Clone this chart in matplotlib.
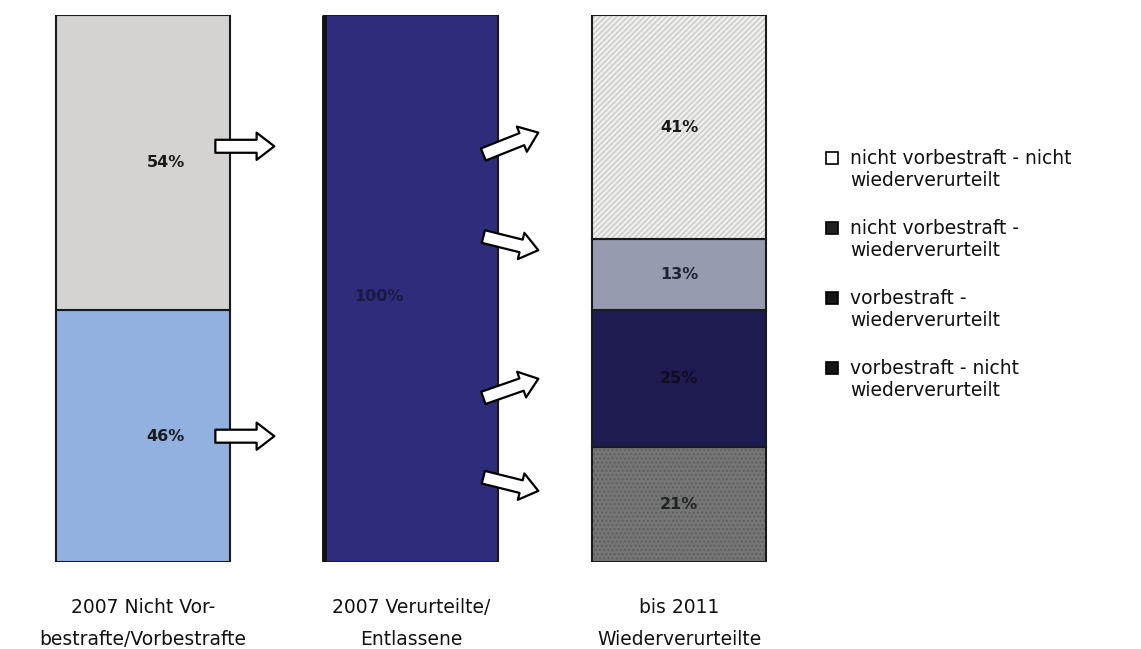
import numpy as np
import matplotlib.pyplot as plt
from matplotlib.patches import Rectangle

# data
categories = ["2007 Nicht Vor-\nbestrafte/Vorbestrafte",
              "2007 Verurteilte/\nEntlassene",
              "bis 2011\nWiederverurteilte"]
bar1_values = [46, 54]                  # vorbestraft, nicht vorbestraft
bar1_colors = ["#92b1e1", "#d4d3d1"]
bar2_values = [100]
bar2_colors = ["#2d2d7c"]
bar3_values = [21, 25, 13, 41]          # bottom -> top
bar3_colors = ["#767676", "#1d1b4f", "#969bb0", "#efefed"]
bar3_hatch = ["....", None, None, "//////"]
bar3_hatch_colors = ["#5f5f5f", None, None, "#c9c9c9"]
legend_labels = ["nicht vorbestraft - nicht\nwiederverurteilt",
                 "nicht vorbestraft -\nwiederverurteilt",
                 "vorbestraft -\nwiederverurteilt",
                 "vorbestraft - nicht\nwiederverurteilt"]
legend_colors = ["white", "#202020", "#151515", "#151515"]

W, H = 1141, 649
fig = plt.figure(figsize=(W / 100, H / 100), dpi=100)
ax = fig.add_axes([9 / W, 87 / H, 804 / W, 547 / H])
width = 0.65


def stack(ax, x, values, colors, hatches=None, hcolors=None, txtcolors=None,
          dx=0.0, dy=0.0):
    bottom = 0
    for i, v in enumerate(values):
        h = hatches[i] if hatches else None
        if h:
            ax.bar(x, v, width, bottom=bottom, color=colors[i], hatch=h,
                   edgecolor=hcolors[i], linewidth=0)
            ax.bar(x, v, width, bottom=bottom, fill=False,
                   edgecolor="#1a1a1a", linewidth=1.5)
        else:
            ax.bar(x, v, width, bottom=bottom, color=colors[i],
                   edgecolor="#1a1a1a", linewidth=1.5)
        tc = txtcolors[i] if txtcolors else "#1a1a1a"
        ax.text(x + dx, bottom + v / 2 + dy, f"{v}%", ha="center", va="center",
                fontsize=11.5, fontweight="bold", color=tc)
        bottom += v


stack(ax, 0, bar1_values, bar1_colors, dx=0.085)
stack(ax, 1, bar2_values, bar2_colors, txtcolors=["#1b1842"], dx=-0.12, dy=-1.5)
stack(ax, 2, bar3_values, bar3_colors, bar3_hatch, bar3_hatch_colors,
      txtcolors=["#1e2420", "#0e0d22", "#1c2630", "#1a1a1a"])
# thick left edge of the middle bar
ax.plot([1 - width / 2, 1 - width / 2], [0, 100], color="#111111", lw=3.5,
        solid_capstyle="butt")

# arrows
arrow_kw = dict(arrowstyle="simple,head_length=0.75,head_width=1.15,tail_width=0.55",
                fc="white", ec="black", lw=1.6, shrinkA=0, shrinkB=0,
                mutation_scale=17)
for y in [76, 23]:
    ax.annotate("", xy=(0.49, y), xytext=(0.27, y), arrowprops=arrow_kw)
arrow_start = [74.5, 59.5, 30, 15.5]
arrow_end = [78.5, 57, 33.5, 13]
for y0, y1 in zip(arrow_start, arrow_end):
    ax.annotate("", xy=(1.475, y1), xytext=(1.27, y0), arrowprops=arrow_kw)

ax.set_xlim(-0.5, 2.5)
ax.set_ylim(0, 100)
ax.set_xticks([0, 1, 2])
ax.set_xticklabels(categories, fontsize=13.5, color="#111111")
for lbl in ax.get_xticklabels():
    lbl.set_linespacing(1.85)
ax.tick_params(axis="x", length=0, pad=26)
ax.set_yticks([])
for s in ax.spines.values():
    s.set_visible(False)

# legend
y_top = 149
for i, (lab, c) in enumerate(zip(legend_labels, legend_colors)):
    y = y_top + i * 70
    fig.add_artist(Rectangle((826 / W, 1 - (y + 15) / H), 12 / W, 12 / H,
                             transform=fig.transFigure, facecolor=c,
                             edgecolor="black", linewidth=1.2))
    fig.text(850 / W, 1 - y / H, lab, ha="left", va="top", fontsize=13.5,
             linespacing=1.2, color="#111111")

fig.savefig("out.png", dpi=100)
